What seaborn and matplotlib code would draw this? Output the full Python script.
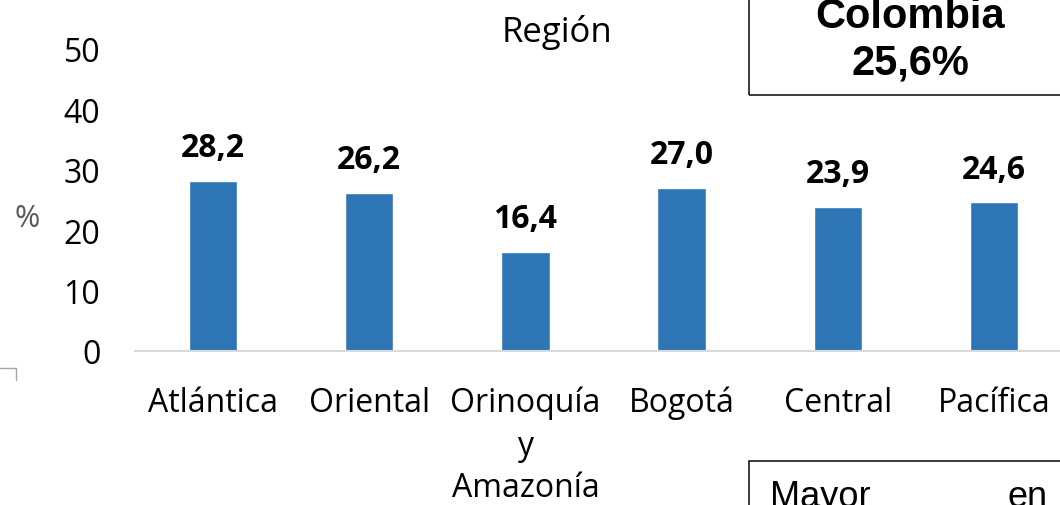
import matplotlib
matplotlib.use("Agg")
import matplotlib.pyplot as plt
from matplotlib.patches import Rectangle
from matplotlib.lines import Line2D
import seaborn as sns
import pandas as pd

regions = ["Atlántica", "Oriental", "Orinoquía\ny\nAmazonía", "Bogotá", "Central", "Pacífica"]
values = [28.2, 26.2, 16.4, 27.0, 23.9, 24.6]
y_ticks = [0, 10, 20, 30, 40, 50]
national_label = "Colombia\n25,6%"

sns.set_theme(style="white")
plt.rcParams["font.family"] = ["Open Sans", "DejaVu Sans"]

W, H = 1060, 506
fig = plt.figure(figsize=(W / 100, H / 100), dpi=100)
ax = fig.add_axes([135 / W, (H - 352) / H, 937 / W, 302 / H])

df = pd.DataFrame({"region": regions, "value": values})
sns.barplot(data=df, x="region", y="value", color="#2E75B6", saturation=1,
            width=0.31, ax=ax)

ax.set_xlim(-0.5, 5.5)
ax.set_ylim(0, 50)
ax.set_yticks(y_ticks)
ax.set_yticklabels([str(t) for t in y_ticks])
ax.tick_params(axis="y", labelsize=23, length=0, pad=25, colors="black")
ax.tick_params(axis="x", labelsize=23, length=0, pad=25, colors="black")
for lbl in ax.get_xticklabels():
    lbl.set_linespacing(1.38)
ax.set_xlabel("")
ax.set_ylabel("")
for s in ["top", "right", "left"]:
    ax.spines[s].set_visible(False)
ax.spines["bottom"].set_color("#d9d9d9")
ax.spines["bottom"].set_linewidth(1.5)

for i, v in enumerate(values):
    ax.annotate(f"{v:.1f}".replace(".", ","), (i, v), xytext=(0, 24),
                textcoords="offset points", ha="center", va="center",
                fontsize=23, fontweight="bold", color="black")

fig.text(557 / W, 1 - 33 / H, "Región", ha="center", va="center",
         fontsize=25, color="black")
fig.text(27 / W, 1 - 219 / H, "%", ha="center", va="center",
         fontsize=22, color="#595959")

# national average box (top right)
fig.patches.append(Rectangle((749 / W, 1 - 96 / H), 400 / W, 200 / H,
                             transform=fig.transFigure, fill=False,
                             edgecolor="#1a1a1a", linewidth=1.2))
fig.text(910 / W, 1 - 40 / H, national_label, ha="center", va="center",
         fontsize=30, fontweight="bold", family="Liberation Sans",
         linespacing=1.2, color="black")

# note box (bottom right)
fig.patches.append(Rectangle((749 / W, 1 - 520 / H), 400 / W, 58 / H,
                             transform=fig.transFigure, fill=False,
                             edgecolor="#1a1a1a", linewidth=1.2))
fig.text(770 / W, 1 - 507 / H, "Mayor", ha="left", va="baseline",
         fontsize=26, family="Liberation Sans", color="black")
fig.text(1048 / W, 1 - 507 / H, "en", ha="right", va="baseline",
         fontsize=26, family="Liberation Sans", color="black")

# small corner mark at left
fig.lines.append(Line2D([0, 16 / W, 16 / W], [1 - 369 / H, 1 - 369 / H, 1 - 381 / H],
                        transform=fig.transFigure, color="#a6a6a6", linewidth=1))

fig.savefig("out.png", dpi=100)
